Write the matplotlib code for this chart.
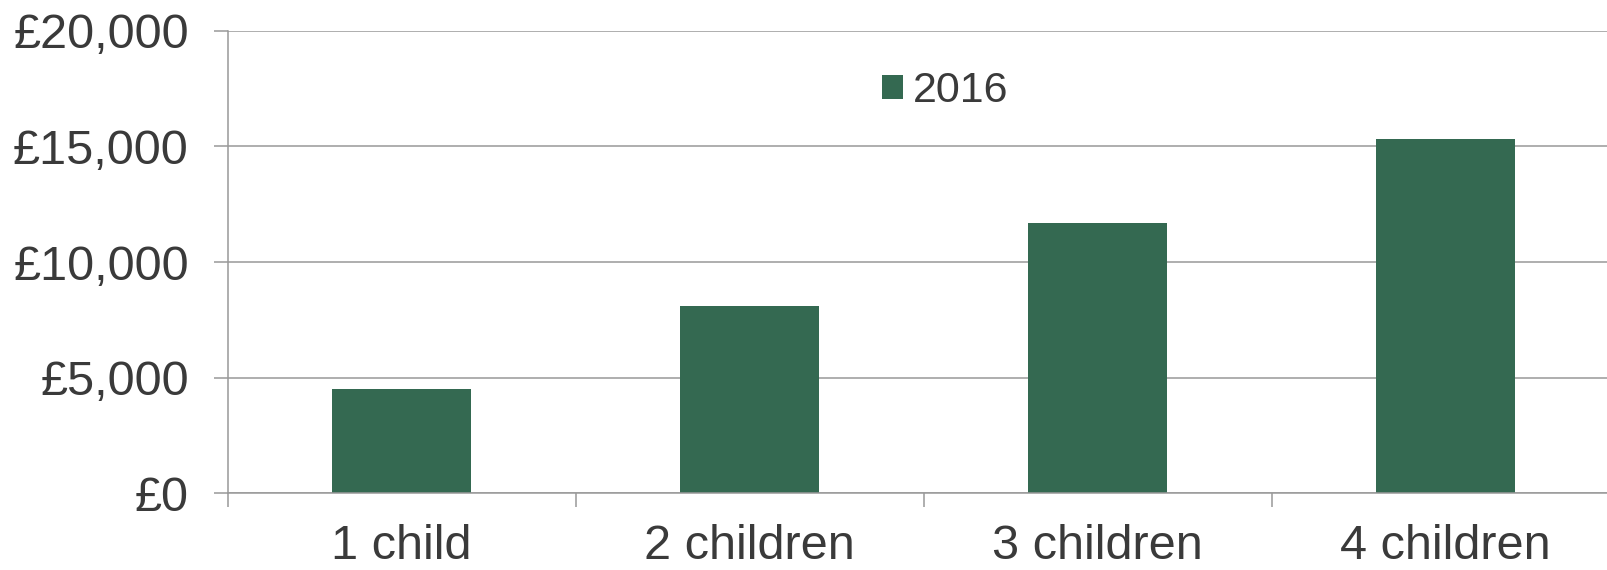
import numpy as np
import matplotlib
matplotlib.use('Agg')
import matplotlib.pyplot as plt
from matplotlib.ticker import FuncFormatter, FixedLocator

categories = ['1 child', '2 children', '3 children', '4 children']
values_2016 = [4500, 8100, 11700, 15300]
series_label = '2016'
yticks = [0, 5000, 10000, 15000, 20000]

plt.rcParams['font.family'] = ['Liberation Sans', 'DejaVu Sans']
txtcol = '#3a3a3a'
gridcol = '#999999'
barcol = '#346951'
fs = 35

fig = plt.figure(figsize=(16.08, 5.70), dpi=100)
# axes runs a little past the right edge, as in the source image
ax = fig.add_axes([227.7 / 1608, 76.7 / 570, 1392 / 1608, 462.5 / 570])

x = np.arange(len(categories))
ax.bar(x, values_2016, width=0.4, color=barcol, label=series_label, zorder=3)

ax.set_xlim(-0.5, len(categories) - 0.5)
ax.set_ylim(0, 20000)
ax.set_yticks(yticks)
ax.yaxis.set_major_formatter(FuncFormatter(lambda v, p: '£{:,.0f}'.format(v)))
ax.grid(axis='y', color=gridcol, linewidth=1.1, zorder=0)

ax.set_xticks(x)
ax.set_xticklabels(categories)
ax.xaxis.set_minor_locator(FixedLocator(np.arange(len(categories) + 1) - 0.5))
ax.tick_params(axis='x', which='major', length=0, pad=22, labelsize=fs, labelcolor=txtcol)
ax.tick_params(axis='x', which='minor', length=10, width=1.1, color=gridcol, direction='out')
ax.tick_params(axis='y', length=10, width=1.1, color=gridcol, pad=18, labelsize=fs, labelcolor=txtcol)

for s in ['top', 'right']:
    ax.spines[s].set_visible(False)
for s in ['left', 'bottom']:
    ax.spines[s].set_color(gridcol)
    ax.spines[s].set_linewidth(1.1)
    ax.spines[s].set_zorder(4)

leg = ax.legend(loc='center', bbox_to_anchor=(945.5 / 1608, 1 - 91 / 570),
                bbox_transform=fig.transFigure, frameon=False, fontsize=31,
                handlelength=0.48, handleheight=0.48, handletextpad=0.24,
                borderpad=0, borderaxespad=0)
for t in leg.get_texts():
    t.set_color(txtcol)

fig.savefig('out.png', dpi=100)
